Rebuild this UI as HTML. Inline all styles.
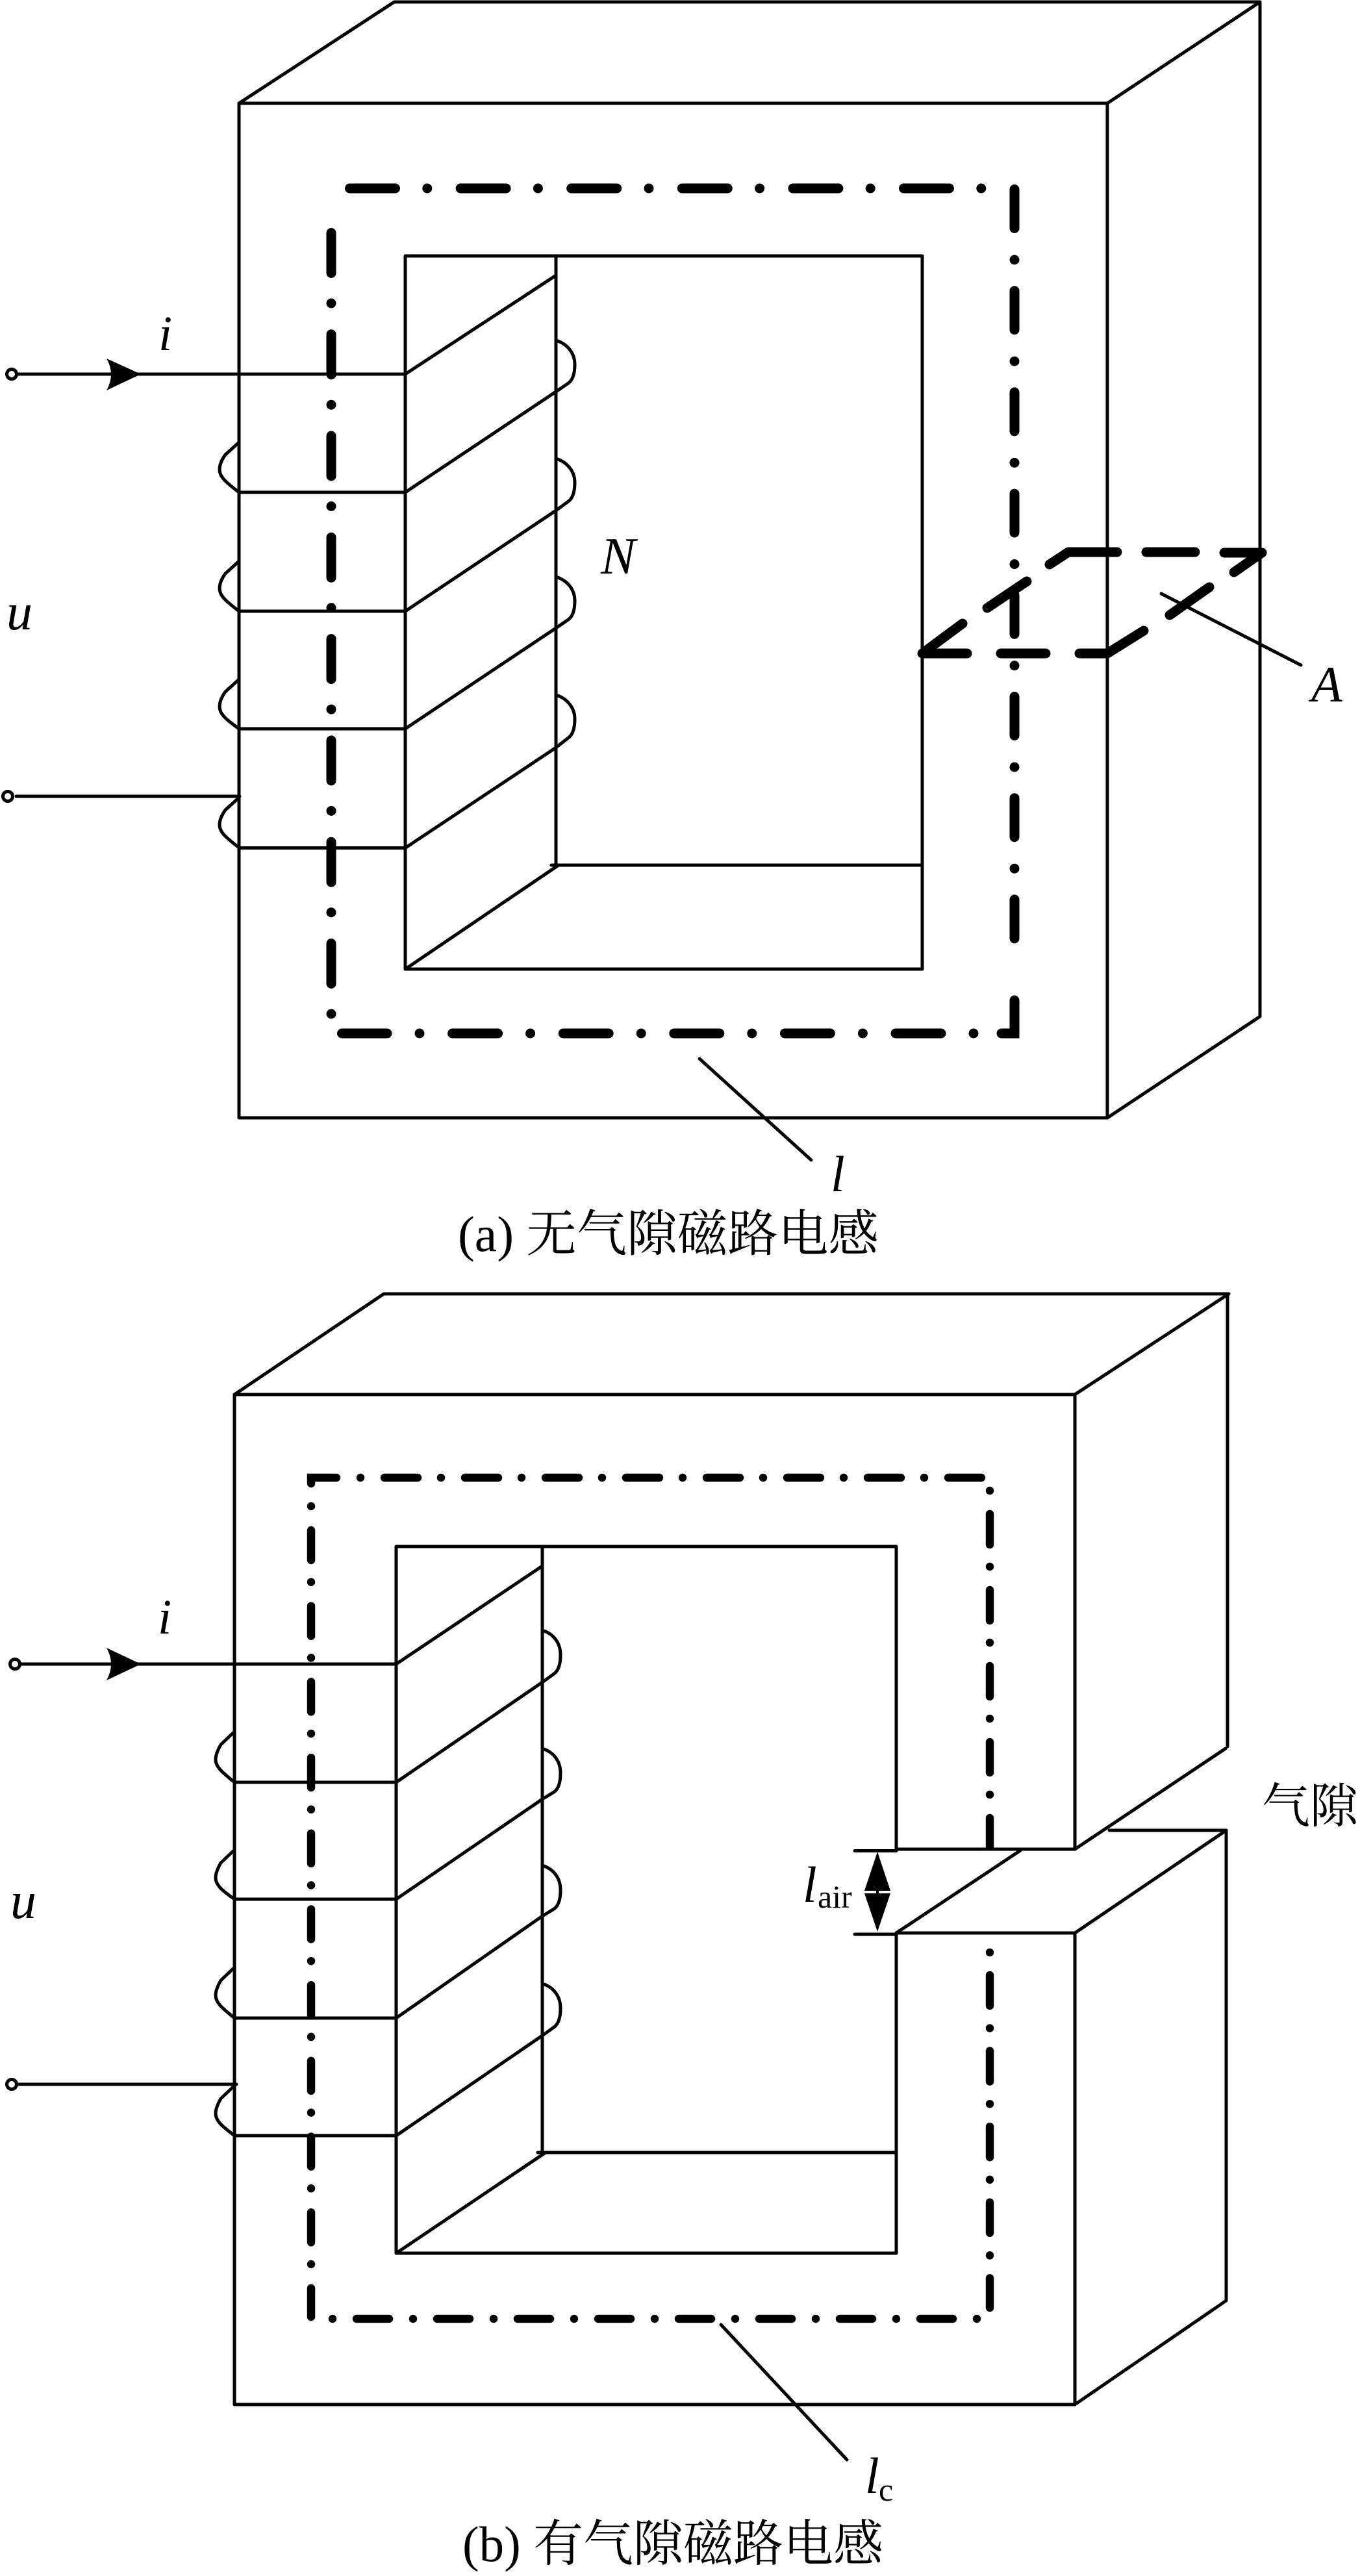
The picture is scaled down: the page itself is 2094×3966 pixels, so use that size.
<!DOCTYPE html>
<html><head><meta charset="utf-8"><style>
html,body{margin:0;padding:0;background:#fff}
svg{display:block}
text{font-family:"Liberation Serif","Noto Serif CJK SC",serif;fill:#000}
.i{font-style:italic}
.l{fill:none;stroke:#000;stroke-width:5;stroke-linecap:round;stroke-linejoin:round}
.a{fill:none;stroke:#000;stroke-width:15;stroke-linecap:round;stroke-linejoin:miter}
.r{fill:none;stroke:#000;stroke-width:15;stroke-linecap:round;stroke-linejoin:round}
.b{fill:none;stroke:#000;stroke-width:12.5;stroke-linecap:round;stroke-linejoin:miter}
</style></head><body>
<svg xmlns="http://www.w3.org/2000/svg" width="2094" height="3966" viewBox="0 0 2094 3966">
<rect width="2094" height="3966" fill="#fff"/>

<!-- Figure A -->
<g class="l">
<path d="M368 159H1705V1721H368Z"/>
<path d="M368 159L607 3H1940L1705 159"/>
<path d="M1940 3V1565L1705 1721"/>
<path d="M624 394H1420V1492H624Z"/>
<path d="M856 394V1332"/>
<path d="M849 1332H1420"/>
<path d="M624 1492L860 1332"/>
<path d="M27 576H624L856 424"/>
<path d="M368 758H624L856 603"/>
<path d="M368 941H624L856 786"/>
<path d="M368 1122H624L856 967"/>
<path d="M368 1305.5H624L856 1151"/>
<path d="M856 524C875 530 885 545 885 561C885 575 882 585 875 590L856 603"/>
<path d="M856 706C875 712 885 727 885 743C885 757 882 767 875 772L856 786"/>
<path d="M856 888C875 894 885 909 885 925C885 939 882 949 875 954L856 967"/>
<path d="M856 1070C875 1076 885 1091 885 1107C885 1121 882 1131 875 1136L856 1151"/>
<path d="M368 681L347 700C342 707 338 715 338 723C338 735 350 744 368 758"/>
<path d="M368 864L347 883C342 890 338 898 338 906C338 918 350 927 368 941"/>
<path d="M368 1046L347 1065C342 1072 338 1080 338 1088C338 1100 350 1109 368 1122"/>
<path d="M368 1228L347 1247C342 1254 338 1262 338 1270C338 1282 350 1291 368 1305"/>
<path d="M25 1226H369"/>
<circle cx="18" cy="576" r="7.5" fill="#fff"/>
<circle cx="12" cy="1226" r="7.5" fill="#fff"/>
<path d="M1788 914L2003 1024"/>
<path d="M1077 1630L1249 1786"/>
</g>
<path d="M217 576L164 552Q178 576 164 601Z" fill="#000"/>

<path class="a" stroke-dasharray="70 49.3 0 51.3" d="M538.5 290H1513"/>
<path class="a" stroke-dasharray="60 48.5 0 47.7" d="M1562 291.5V1493"/>
<path class="a" d="M1562 1540V1591H1542"/>
<path class="a" stroke-dasharray="0 50 70 50.6" d="M1499 1591H526.5"/>
<path class="a" stroke-dasharray="0 46.5 62 47.8" d="M510 1561V358.5"/>
<g class="r">
<path d="M1489 1006H1420L1482 960"/>
<path d="M1541 1006H1610"/>
<path d="M1662 1006H1705L1761 971"/>
<path d="M1801 947L1862 904"/>
<path d="M1900 881L1943 851H1885"/>
<path d="M1840 850H1765"/>
<path d="M1720 850H1645L1616 869"/>
<path d="M1581 895L1520 936"/>
</g>

<text class="i" x="244" y="539" font-size="76">i</text>
<text class="i" x="925" y="883" font-size="80">N</text>
<text class="i" x="10" y="969" font-size="80">u</text>
<text class="i" x="2019" y="1080" font-size="78">A</text>
<text class="i" x="1279" y="1834" font-size="78">l</text>
<text x="705" y="1926" font-size="77.5">(a) 无气隙磁路电感</text>

<!-- Figure B -->
<g class="l">
<path d="M1655 2847V2147H361V3702H1655V2976"/>
<path d="M361 2147L591 1992H1892L1655 2147"/>
<path d="M1890 1992V2689"/>
<path d="M1380 2848V2381H610V3469H1380V2976"/>
<path d="M835 2381V3314"/>
<path d="M828 3314H1380"/>
<path d="M610 3469L840 3314"/>
<path d="M1316 2849.5H1380"/>
<path d="M1380 2847H1655L1887 2692"/>
<path d="M1708 2818H1888L1655 2976H1380L1571 2849"/>
<path d="M1316 2978H1380"/>
<path d="M1888 2818V3542L1655 3702"/>
<path d="M33 2562H610L835 2411"/>
<path d="M361 2744H610L835 2590"/>
<path d="M361 2924H610L835 2770"/>
<path d="M361 3107H610L835 2950"/>
<path d="M361 3288H610L835 3134"/>
<path d="M835 2510C854 2516 863 2531 863 2548C863 2562 860 2572 853 2577L835 2590"/>
<path d="M835 2692C854 2698 863 2713 863 2730C863 2744 860 2754 853 2759L835 2770"/>
<path d="M835 2872C854 2878 863 2893 863 2910C863 2924 860 2934 853 2939L835 2950"/>
<path d="M835 3054C854 3060 863 3075 863 3092C863 3106 860 3116 853 3121L835 3134"/>
<path d="M361 2666L340 2686C336 2693 332 2701 332 2709C332 2721 344 2730 361 2744"/>
<path d="M361 2848L340 2868C336 2875 332 2883 332 2891C332 2903 344 2912 361 2924"/>
<path d="M361 3029L340 3049C336 3056 332 3064 332 3072C332 3084 344 3093 361 3107"/>
<path d="M361 3211L340 3231C336 3238 332 3246 332 3254C332 3266 344 3275 361 3288"/>
<path d="M28 3209H364"/>
<circle cx="23" cy="2562" r="7.5" fill="#fff"/>
<circle cx="18" cy="3209" r="7.5" fill="#fff"/>
<path d="M1110 3579L1304 3787"/>
</g>
<path d="M217 2562L164 2537Q178 2562 164 2587Z" fill="#000"/>
<path d="M1351 2851L1371 2911H1331Z" fill="#000"/>
<path d="M1351 2974L1371 2915H1331Z" fill="#000"/>
<path d="M1351 2905V2921" stroke="#000" stroke-width="4" fill="none"/>

<path class="b" d="M479 2284V2275H518"/>
<path class="b" stroke-dasharray="0 37 51 36" d="M555 2275H1511"/>
<path class="b" stroke-dasharray="0 36 47 34" d="M1524 2295V2843"/>
<path class="b" stroke-dasharray="0 35 47 34.6" d="M1524 3006V3553"/>
<path class="b" stroke-dasharray="0 37 50 37" d="M1504 3570H510"/>
<path class="b" stroke-dasharray="0 37 46 33.7" d="M479 2319V3567"/>

<text class="i" x="243" y="2515" font-size="76">i</text>
<text class="i" x="16" y="2953" font-size="80">u</text>
<text class="i" x="1236" y="2928" font-size="78">l</text>
<text x="1259" y="2937" font-size="50">air</text>
<text x="1943" y="2806" font-size="74">气隙</text>
<text class="i" x="1332" y="3838" font-size="78">l</text>
<text x="1353" y="3850" font-size="50">c</text>
<text x="712" y="3943" font-size="77">(b) 有气隙磁路电感</text>
</svg>
</body></html>
